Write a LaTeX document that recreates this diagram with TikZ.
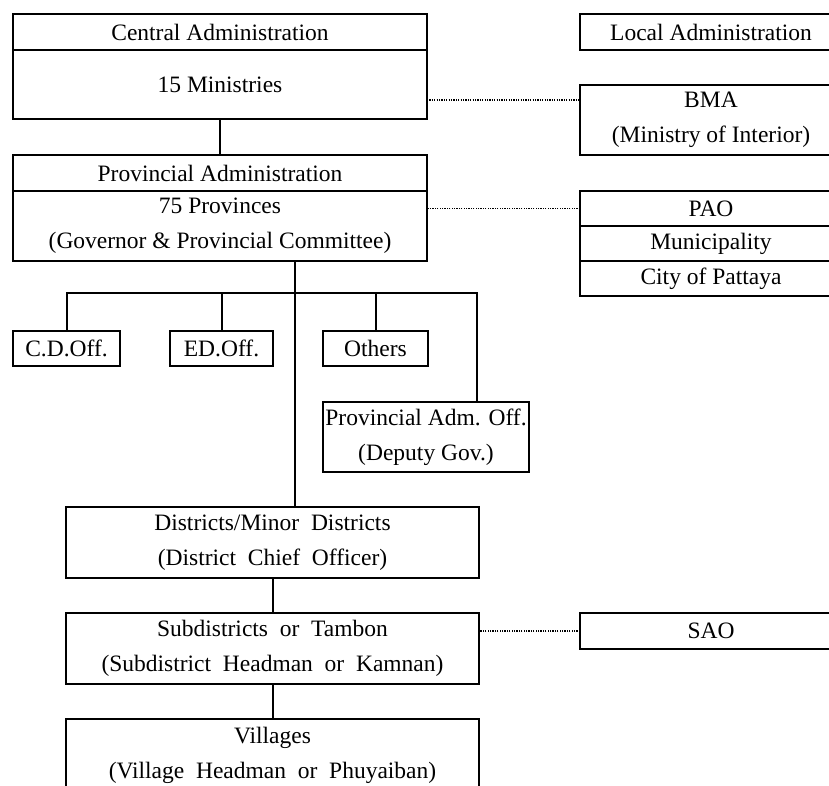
\documentclass[tikz,border=0pt]{standalone}
\usepackage{fontspec}
\setmainfont{Liberation Serif}
\usetikzlibrary{positioning,calc}

\tikzset{
  unit/.style={draw, line width=2pt, inner sep=0pt, outer sep=0pt, align=center,
    font=\fontsize{23.5}{35}\selectfont},
  link/.style={line width=2pt},
  dotlink/.style={line width=1.4pt, dash pattern=on 1.2pt off 1.2pt},
}

\begin{document}
\begin{tikzpicture}[x=1pt, y=-1pt]

\useasboundingbox (0,0) rectangle (829,786);
\clip (0,0) rectangle (829,786);

% Central level
\node[unit, minimum width=414, minimum height=36] (central) at (220,32) {Central Administration};
\node[unit, minimum width=414, minimum height=69, below=0pt of central] (ministries) {15 Ministries};

% Provincial level
\node[unit, minimum width=414, minimum height=36] (provincial) at (220,173) {Provincial Administration};
\node[unit, minimum width=414, minimum height=70, below=0pt of provincial] (provinces)
  {75 Provinces\\(Governor \& Provincial Committee)};

% Local administration (cut off at the right)
\node[unit, minimum width=262, minimum height=36] (local) at (711,32) {Local Administration};
\node[unit, minimum width=262, minimum height=70] (bma) at (711,120) {BMA\\(Ministry of Interior)};
\node[unit, minimum width=262, minimum height=35] (pao) at (711,208.5) {PAO};
\node[unit, minimum width=262, minimum height=35, below=0pt of pao] (municipality) {Municipality};
\node[unit, minimum width=262, minimum height=35, below=0pt of municipality] (pattaya) {City of Pattaya};
\node[unit, minimum width=262, minimum height=36] (sao) at (711,631) {SAO};

% Provincial offices
\node[unit, minimum width=107, minimum height=35] (cdoff) at (66.5,348.5) {C.D.Off.};
\node[unit, minimum width=103, minimum height=35] (edoff) at (221.5,348.5) {ED.Off.};
\node[unit, minimum width=105, minimum height=35] (others) at (375.5,348.5) {Others};
\node[unit, minimum width=206, minimum height=70] (admoff) at (426,437) {Provincial Adm. Off.\\(Deputy Gov.)};

% District level and below
\node[unit, minimum width=413, minimum height=71] (districts) at (272.5,542.5)
  {Districts/Minor\ \ Districts\\(District\ \ Chief\ \ Officer)};
\node[unit, minimum width=413, minimum height=71] (subdistricts) at (272.5,648.5)
  {Subdistricts\ \ or\ \ Tambon\\(Subdistrict\ \ Headman\ \ or\ \ Kamnan)};
\node[unit, minimum width=413, minimum height=73] (villages) at (272.5,755.5)
  {Villages\\(Village\ \ Headman\ \ or\ \ Phuyaiban)};

% Lines of command
\coordinate (bar) at (295,293);
\coordinate (admtop) at ([xshift=-52pt]admoff.north east);
\draw[link] (ministries.south) -- (provincial.north);
\draw[link] ([xshift=75pt]provinces.south) -- ([xshift=75pt]provinces.south |- districts.north);
\draw[link] (cdoff.north) -- (cdoff.north |- bar) -- (admtop |- bar) -- (admtop);
\foreach \n in {edoff, others}
  \draw[link] (\n.north) -- (\n.north |- bar);
\draw[link] (districts.south) -- (subdistricts.north);
\draw[link] (subdistricts.south) -- (villages.north);

% Links to local administration
\draw[dotlink] ([yshift=-15.5pt]ministries.east) -- ([yshift=-15.5pt]ministries.east -| bma.west);
\draw[dotlink] (pao.west) -- (pao.west -| provinces.east);
\draw[dotlink] (sao.west) -- (sao.west -| subdistricts.east);

\end{tikzpicture}
\end{document}
